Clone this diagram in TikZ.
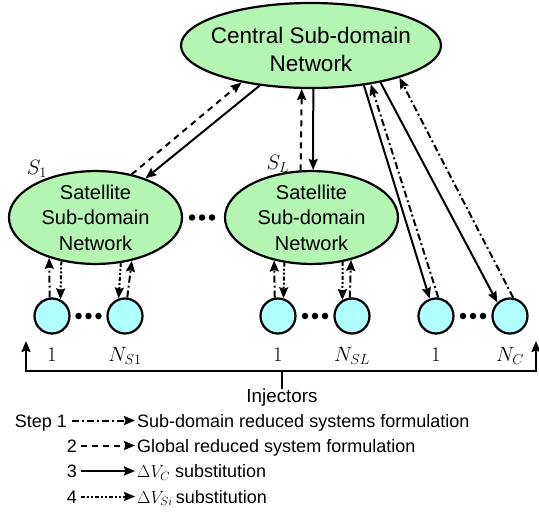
\documentclass[tikz,border=0pt]{standalone}
\usepackage[no-math]{fontspec}
\setmainfont{Liberation Sans}
\usetikzlibrary{arrows.meta,shapes.geometric}
\definecolor{netgreen}{RGB}{180,245,180}
\definecolor{injcyan}{RGB}{175,255,255}
\begin{document}
\begin{tikzpicture}[x=1pt,y=-1pt,
  cennet/.style={ellipse,draw,line width=2.2pt,fill=netgreen,minimum width=260pt,minimum height=85pt,inner sep=0pt},
  centext/.style={align=center,font=\fontsize{22.5}{28.4}\selectfont,inner sep=0pt},
  satnet/.style={ellipse,draw,line width=2.2pt,fill=netgreen,minimum width=173pt,minimum height=83pt,inner sep=0pt,align=center,font=\fontsize{20}{25.5}\selectfont},
  inj/.style={circle,draw,line width=2.2pt,fill=injcyan,minimum size=35pt,inner sep=0pt},
  dotmark/.style={circle,fill=black,inner sep=0pt,minimum size=6.5pt},
  lab/.style={font=\fontsize{22}{26}\selectfont,inner sep=0pt},
  leg/.style={font=\fontsize{18}{22}\selectfont,inner sep=0pt,text height=13pt,text depth=0pt},
  tip/.style={-{Stealth[length=11pt,width=9pt,inset=1.5pt]}},
  sone/.style={tip,line width=2pt,dash pattern=on 7pt off 3pt on 2pt off 3pt},
  stwo/.style={tip,line width=2pt,dash pattern=on 6pt off 5pt},
  sthree/.style={tip,line width=2pt},
  sfour/.style={tip,line width=2pt,dash pattern=on 4pt off 2pt on 2pt off 2pt on 2pt off 2pt},
]
\useasboundingbox (0,0) rectangle (539,514);

% networks
\node[cennet] (cen) at (311,45.5) {};
\node[centext] (centxt) at (311,49.3) {Central Sub-domain\\Network};
\node[satnet] (sat1) at (95.5,217.5) {Satellite\\Sub-domain\\Network};
\node[satnet] (satL) at (311.5,217.5) {Satellite\\Sub-domain\\Network};
\node[lab,font=\fontsize{20}{24}\selectfont] (s1lab) at (37,169) {$S_1$};
\node[lab,font=\fontsize{20}{24}\selectfont] (sLlab) at (278,164) {$S_L$};
\node[dotmark] (sd1) at (192,217.5) {};
\node[dotmark] (sd2) at (202,217.5) {};
\node[dotmark] (sd3) at (212,217.5) {};

% injectors
\node[inj] (c11) at (52,316) {};
\node[inj] (c12) at (125,316) {};
\node[inj] (cL1) at (278,316) {};
\node[inj] (cL2) at (352,316) {};
\node[inj] (cC1) at (436,316) {};
\node[inj] (cC2) at (510,316) {};
\foreach \x [count=\i] in {78.5,88.5,98.5,305,315,325,463,473,483}
  \node[dotmark] (cd\i) at (\x,316) {};

\node[lab,anchor=base] (l11) at (52,361) {$1$};
\node[lab,anchor=base] (l12) at (125,361) {$N_{S1}$};
\node[lab,anchor=base] (lL1) at (278,361) {$1$};
\node[lab,anchor=base] (lL2) at (352,361) {$N_{SL}$};
\node[lab,anchor=base] (lC1) at (436,361) {$1$};
\node[lab,anchor=base] (lC2) at (510,361) {$N_C$};

% central <-> satellites
\draw[stwo] (sat1.50) -- (cen.208);
\draw[sthree] (cen.218) -- (sat1.38);
\draw[stwo] (satL.103) -- (cen.258);
\draw[sthree] (cen.273) -- (satL.88);

% central <-> central injectors
\draw[sthree] (cen.-37) -- (cC1.110);
\draw[sone] (cC1.83) -- (cen.-33);
\draw[sthree] (cen.-28) -- (cC2.133);
\draw[sone] (cC2.80) -- (cen.-20);

% satellites <-> injectors
\draw[sone] (c11.97) -- (sat1.221);
\draw[sfour] (sat1.232) -- (c11.63);
\draw[sfour] (sat1.-61) -- (c12.110);
\draw[sone] (c12.83) -- (sat1.-50);
\draw[sone] (cL1.100) -- (satL.229);
\draw[sfour] (satL.239) -- (cL1.73);
\draw[sfour] (satL.-55) -- (cL2.121);
\draw[sone] (cL2.97) -- (satL.-47);

% injectors bracket
\node[leg,anchor=north,font=\fontsize{18.8}{22}\selectfont] (injlab) at (282,389) {Injectors};
\coordinate (hub) at (282,371);
\coordinate (bl) at (26,341);
\coordinate (br) at (536,341);
\draw[sthree] (injlab.north) -- (hub) -| (bl);
\draw[sthree] (hub) -| (br);

% legend
\node[leg,anchor=base east] (st1) at (67,427) {Step 1};
\node[leg,anchor=base west] (t1) at (137,427) {Sub-domain reduced systems formulation};
\draw[sone] ([xshift=5pt]st1.east) -- ([xshift=-2pt]t1.west);
\node[leg,anchor=base east] (st2) at (77,452) {2};
\node[leg,anchor=base west] (t2) at (137,452) {Global reduced system formulation};
\draw[stwo] ([xshift=4pt]st2.east) -- ([xshift=-2pt]t2.west);
\node[leg,anchor=base east] (st3) at (77,477.5) {3};
\node[leg,anchor=base west] (t3) at (137,477.5) {$\Delta V_C$ substitution};
\draw[sthree] ([xshift=4pt]st3.east) -- ([xshift=-2pt]t3.west);
\node[leg,anchor=base east] (st4) at (77,503) {4};
\node[leg,anchor=base west] (t4) at (137,503) {$\Delta V_{Si}$\,substitution};
\draw[sfour] ([xshift=4pt]st4.east) -- ([xshift=-2pt]t4.west);
\end{tikzpicture}
\end{document}
